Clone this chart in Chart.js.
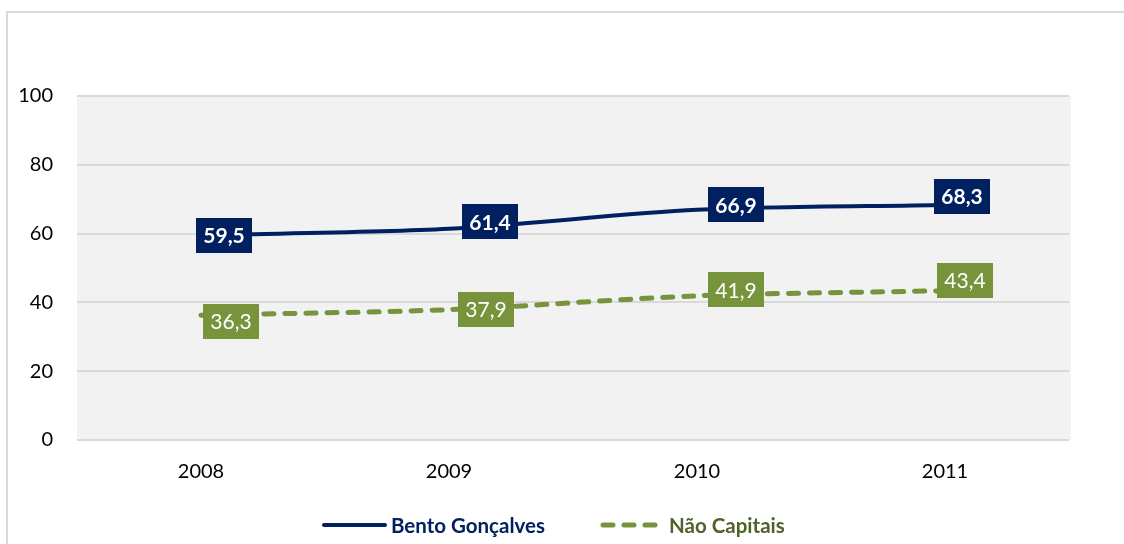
<!DOCTYPE html>
<html>
<head>
<meta charset="utf-8">
<script src="https://cdn.jsdelivr.net/npm/chart.js@4/dist/chart.umd.min.js"></script>
<style>
html,body{margin:0;padding:0;background:#fff;}
#wrap{position:relative;width:1124px;height:544px;}
canvas{display:block;}
</style>
</head>
<body>
<div id="wrap"><canvas id="c" width="1124" height="544"></canvas></div>
<script>
const categories = ['2008', '2009', '2010', '2011'];
const bentoValues = [59.5, 61.4, 66.9, 68.3];
const naoCapitaisValues = [36.3, 37.9, 41.9, 43.4];
const seriesNames = ['Bento Gonçalves', 'Não Capitais'];
const yTicks = [0, 20, 40, 60, 80, 100];

const NAVY = '#002060';
const GREEN = '#77933C';
const GREEN_TEXT = '#4F6228';
const FONT = 'Lato, "Open Sans", sans-serif';

const fmt = v => v.toFixed(1).replace('.', ',');

const framePlugin = {
  id: 'frame',
  beforeDraw(chart) {
    const {ctx, chartArea: a} = chart;
    ctx.save();
    ctx.fillStyle = '#ffffff';
    ctx.fillRect(0, 0, chart.width, chart.height);
    ctx.strokeStyle = '#d9d9d9';
    ctx.lineWidth = 2;
    ctx.beginPath();
    ctx.moveTo(7, chart.height);
    ctx.lineTo(7, 12);
    ctx.lineTo(chart.width, 12);
    ctx.stroke();
    ctx.fillStyle = '#f2f2f2';
    ctx.fillRect(a.left, a.top, a.right - a.left + 2, a.bottom - a.top);
    ctx.restore();
  }
};

const labelPlugin = {
  id: 'boxLabels',
  afterDatasetsDraw(chart, args, opts) {
    const {ctx} = chart;
    chart.data.datasets.forEach((ds, di) => {
      const meta = chart.getDatasetMeta(di);
      const st = opts.styles[di];
      meta.data.forEach((pt, i) => {
        const off = st.offsets[i];
        const cx = pt.x + off[0];
        const cy = pt.y + off[1];
        const txt = fmt(ds.data[i]);
        const w = 56, h = 35;
        ctx.save();
        ctx.fillStyle = st.bg;
        ctx.fillRect(Math.round(cx - w / 2), Math.round(cy - h / 2), w, h);
        ctx.fillStyle = '#ffffff';
        ctx.font = st.font;
        ctx.textAlign = 'center';
        ctx.textBaseline = 'middle';
        ctx.fillText(txt, cx, cy + 1);
        ctx.restore();
      });
    });
  }
};

const legendPlugin = {
  id: 'customLegend',
  afterDraw(chart) {
    const {ctx} = chart;
    const y = 525;
    ctx.save();
    ctx.strokeStyle = NAVY;
    ctx.lineWidth = 4;
    ctx.lineCap = 'round';
    ctx.beginPath();
    ctx.moveTo(324, y); ctx.lineTo(385, y); ctx.stroke();
    ctx.font = 'bold 20.5px ' + FONT;
    ctx.textBaseline = 'middle';
    ctx.textAlign = 'left';
    ctx.fillStyle = NAVY;
    ctx.fillText(chart.data.datasets[0].label, 391, y + 1);
    ctx.strokeStyle = GREEN;
    ctx.lineWidth = 5;
    ctx.setLineDash([10, 11]);
    ctx.beginPath();
    ctx.moveTo(603, y); ctx.lineTo(657, y); ctx.stroke();
    ctx.setLineDash([]);
    ctx.fillStyle = GREEN_TEXT;
    ctx.fillText(chart.data.datasets[1].label, 669, y + 1);
    ctx.restore();
  }
};

new Chart(document.getElementById('c'), {
  type: 'line',
  data: {
    labels: categories,
    datasets: [
      {
        label: seriesNames[0],
        data: bentoValues,
        borderColor: NAVY,
        borderWidth: 4,
        pointRadius: 0,
        tension: 0.3,
        fill: false
      },
      {
        label: seriesNames[1],
        data: naoCapitaisValues,
        borderColor: GREEN,
        borderWidth: 5,
        borderDash: [10, 11],
        borderCapStyle: 'round',
        pointRadius: 0,
        tension: 0.3,
        fill: false
      }
    ]
  },
  options: {
    responsive: false,
    animation: false,
    layout: { padding: { top: 96, right: 55, left: 0, bottom: 0 } },
    plugins: {
      legend: { display: false },
      tooltip: { enabled: false },
      boxLabels: {
        styles: [
          { bg: NAVY, font: 'bold 21px ' + FONT, offsets: [[23, 0], [41, -7], [39, -5], [17, -9]] },
          { bg: GREEN, font: '21px ' + FONT, offsets: [[30, 6], [37, 0], [39, -6], [20, -10]] }
        ]
      }
    },
    scales: {
      x: {
        offset: true,
        grid: { display: false, drawTicks: false },
        border: { display: false },
        ticks: { color: '#000', font: { family: FONT, size: 20 }, padding: 20 },
        afterFit(s) { s.height = 104; }
      },
      y: {
        min: 0, max: 100,
        afterBuildTicks(s) { s.ticks = yTicks.map(v => ({ value: v })); },
        grid: { color: '#d9d9d9', lineWidth: 2, drawTicks: false },
        border: { display: false },
        ticks: { color: '#000', font: { family: FONT, size: 20 }, padding: 24 },
        afterFit(s) { s.width = 77; }
      }
    }
  },
  plugins: [framePlugin, labelPlugin, legendPlugin]
});
</script>
</body>
</html>
